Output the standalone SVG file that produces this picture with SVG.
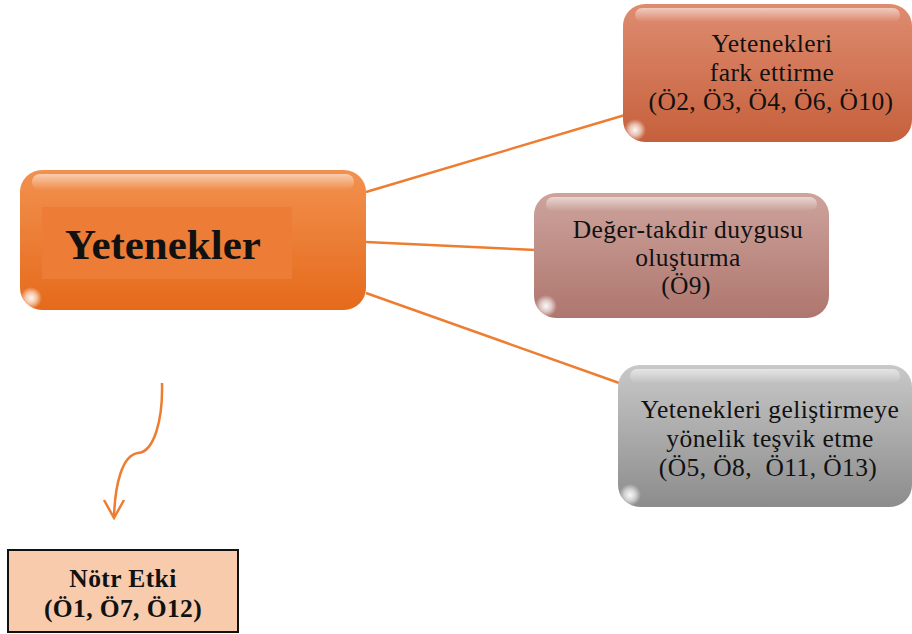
<svg xmlns="http://www.w3.org/2000/svg" width="912" height="634" viewBox="0 0 912 634">
<defs>
<linearGradient id="gMain" x1="0" y1="0" x2="0" y2="1"><stop offset="0" stop-color="#f2914f"/><stop offset="1" stop-color="#e56a1b"/></linearGradient>
<linearGradient id="gTop" x1="0" y1="0" x2="0" y2="1"><stop offset="0" stop-color="#de8c70"/><stop offset="1" stop-color="#c6603c"/></linearGradient>
<linearGradient id="gMid" x1="0" y1="0" x2="0" y2="1"><stop offset="0" stop-color="#cda39c"/><stop offset="1" stop-color="#ae766e"/></linearGradient>
<linearGradient id="gGray" x1="0" y1="0" x2="0" y2="1"><stop offset="0" stop-color="#c8c8c8"/><stop offset="1" stop-color="#8c8c8c"/></linearGradient>
<linearGradient id="gHi" x1="0" y1="0" x2="0" y2="1"><stop offset="0" stop-color="#fff" stop-opacity="0.55"/><stop offset="1" stop-color="#fff" stop-opacity="0"/></linearGradient>
<radialGradient id="gCorner"><stop offset="0" stop-color="#fff" stop-opacity="0.95"/><stop offset="0.5" stop-color="#fff" stop-opacity="0.6"/><stop offset="1" stop-color="#fff" stop-opacity="0"/></radialGradient>
</defs>
<style>
.conn{fill:none;stroke:#ed7d31;stroke-width:2.5}
.lbl{font-family:"Liberation Serif","Times New Roman",serif;font-size:25.5px;letter-spacing:0.4px;fill:#111;text-anchor:middle}
.bold{font-weight:bold}
.hi{fill:url(#gHi)}
.corner{fill:url(#gCorner)}
</style>
<g id="connectors">
<line class="conn" x1="366" y1="192" x2="625" y2="115"/>
<line class="conn" x1="366" y1="242" x2="536" y2="250"/>
<line class="conn" x1="366" y1="293" x2="622" y2="384"/>
<path class="conn" d="M162,383 C163,420 154,452 138,453 C122,455 115,485 114,517"/>
<polyline class="conn" points="104,500 114,518 124,500"/>
</g>
<g id="yetenekler">
<rect x="20" y="170" width="346" height="140" rx="22" fill="url(#gMain)"/>
<rect x="32" y="174" width="322" height="16" rx="8" class="hi"/>
<ellipse cx="31" cy="298" rx="11" ry="11" class="corner"/>
<rect x="42" y="207" width="250" height="72" fill="#ec7c36"/>
<text x="163" y="259" class="lbl bold" style="font-size:43px;letter-spacing:0">Yetenekler</text>
</g>
<g id="fark">
<rect x="623" y="4" width="289" height="138" rx="22" fill="url(#gTop)"/>
<rect x="635" y="8" width="265" height="14" rx="7" class="hi"/>
<ellipse cx="635" cy="130" rx="11" ry="11" class="corner"/>
<text class="lbl"><tspan x="772" y="52">Yetenekleri</tspan><tspan x="772" y="81">fark ettirme</tspan><tspan x="771" y="110">(Ö2, Ö3, Ö4, Ö6, Ö10)</tspan></text>
</g>
<g id="deger">
<rect x="534" y="193" width="295" height="125" rx="22" fill="url(#gMid)"/>
<rect x="546" y="197" width="271" height="14" rx="7" class="hi"/>
<ellipse cx="546" cy="306" rx="11" ry="11" class="corner"/>
<text class="lbl"><tspan x="688" y="238">Değer-takdir duygusu</tspan><tspan x="688" y="266">oluşturma</tspan><tspan x="686" y="294">(Ö9)</tspan></text>
</g>
<g id="gelistirme">
<rect x="618" y="365" width="294" height="142" rx="22" fill="url(#gGray)"/>
<rect x="630" y="369" width="270" height="14" rx="7" class="hi"/>
<ellipse cx="630" cy="495" rx="11" ry="11" class="corner"/>
<text class="lbl"><tspan x="770" y="418">Yetenekleri geliştirmeye</tspan><tspan x="770" y="447">yönelik teşvik etme</tspan><tspan x="768" y="476" xml:space="preserve">(Ö5, Ö8,  Ö11, Ö13)</tspan></text>
</g>
<g id="notr">
<rect x="8" y="550" width="230" height="82" fill="#f7cbac" stroke="#111" stroke-width="2"/>
<text class="lbl bold"><tspan x="123" y="587">Nötr Etki</tspan><tspan x="123" y="617">(Ö1, Ö7, Ö12)</tspan></text>
</g>
</svg>
